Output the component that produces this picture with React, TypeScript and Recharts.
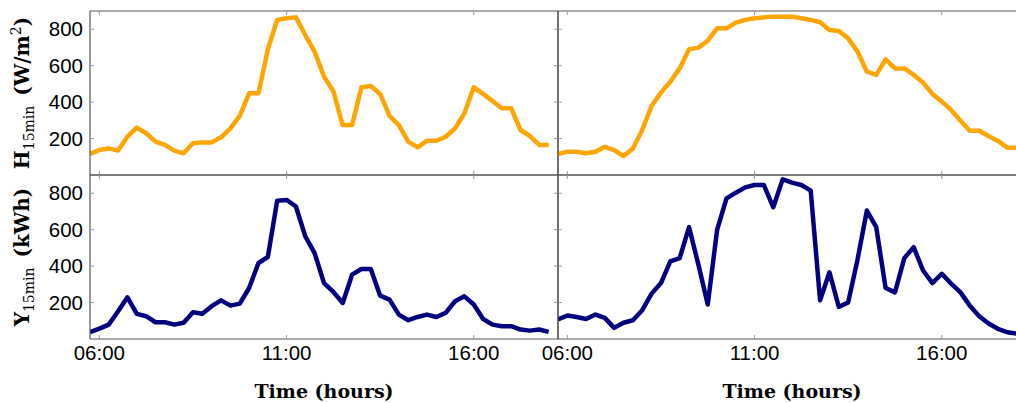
import React from 'react';
import { LineChart, Line, XAxis, YAxis } from 'recharts';

const TIME_SLOTS = [
  '05:45', '06:00', '06:15', '06:30', '06:45', '07:00', '07:15', '07:30', '07:45', '08:00',
  '08:15', '08:30', '08:45', '09:00', '09:15', '09:30', '09:45', '10:00', '10:15', '10:30',
  '10:45', '11:00', '11:15', '11:30', '11:45', '12:00', '12:15', '12:30', '12:45', '13:00',
  '13:15', '13:30', '13:45', '14:00', '14:15', '14:30', '14:45', '15:00', '15:15', '15:30',
  '15:45', '16:00', '16:15', '16:30', '16:45', '17:00', '17:15', '17:30', '17:45', '18:00',
];

const H_DAY1 = [
  115, 137, 146, 134, 210, 260, 229, 183, 165, 134,
  119, 174, 179, 179, 207, 256, 324, 448, 448, 690,
  851, 860, 865, 768, 677, 540, 460, 274, 274, 481,
  488, 445, 324, 274, 183, 152, 188, 188, 210, 256,
  339, 481, 445, 406, 366, 366, 247, 214, 165, 165,
];

const Y_DAY1 = [
  37, 57, 79, 152, 229, 138, 125, 92, 92, 79,
  89, 147, 139, 180, 212, 183, 194, 280, 417, 450,
  759, 763, 727, 563, 471, 307, 258, 198, 353, 384,
  384, 238, 216, 134, 103, 121, 134, 121, 143, 207,
  234, 189, 110, 79, 70, 70, 52, 46, 52, 39,
];

const H_DAY2 = [
  115, 128, 128, 119, 128, 155, 137, 104, 146, 247,
  379, 452, 512, 585, 690, 699, 737, 805, 805, 836,
  851, 860, 865, 869, 869, 869, 860, 851, 838, 796,
  790, 750, 677, 567, 549, 635, 585, 585, 549, 507,
  445, 403, 357, 298, 243, 243, 214, 187, 150, 150,
];

const Y_DAY2 = [
  107, 129, 121, 110, 134, 116, 61, 89, 103, 158,
  249, 307, 426, 444, 614, 408, 189, 599, 772, 803,
  832, 845, 845, 723, 876, 858, 845, 814, 212, 366,
  176, 201, 435, 705, 614, 280, 256, 444, 504, 376,
  307, 358, 304, 256, 183, 125, 85, 56, 37, 30,
];

const X_TICKS = [6, 11, 16];
const X_TICK_LABELS = ['06:00', '11:00', '16:00'];
const Y_TICKS = [200, 400, 600, 800];
const X_DOMAIN = [5.75, 18.25];
const Y_DOMAIN = [0, 900];

const toHours = (s: string) => {
  const [h, m] = s.split(':').map(Number);
  return h + m / 60;
};

const build = (vals: number[]) => TIME_SLOTS.map((s, i) => ({ t: toHours(s), v: vals[i] }));

const fmtX = (v: number) => X_TICK_LABELS[X_TICKS.indexOf(v)] ?? '';
const blank = () => '';

const SPINE = '#555555';
const TICKC = '#999999';
const tickFont = { fontFamily: '"Liberation Sans", Arial, sans-serif', fontSize: 20.5, fill: '#000' };

const PW = 468;
const PH = 164;

function Panel({ vals, color, left, top, showX, showY }: any) {
  const W = 90 + PW + 1 + 9;
  const H = 11 + PH + 40;
  return (
    <div style={{ position: 'absolute', left: left - 90, top: top - 11 }}>
      <LineChart width={W} height={H} data={build(vals)} margin={{ top: 10, right: 9, left: 0, bottom: 0 }}>
        <XAxis
          xAxisId="b"
          dataKey="t"
          type="number"
          domain={X_DOMAIN}
          ticks={X_TICKS}
          interval={0}
          orientation="bottom"
          height={40}
          tickSize={-4}
          tickMargin={10}
          tickFormatter={showX ? fmtX : blank}
          tick={tickFont}
          axisLine={{ stroke: SPINE, strokeWidth: 1.2 }}
          tickLine={{ stroke: TICKC }}
          allowDataOverflow
        />
        <XAxis
          xAxisId="t"
          dataKey="t"
          type="number"
          domain={X_DOMAIN}
          ticks={X_TICKS}
          interval={0}
          orientation="top"
          height={1}
          tickSize={-4}
          tickFormatter={blank}
          axisLine={{ stroke: SPINE, strokeWidth: 1.2 }}
          tickLine={{ stroke: TICKC }}
          allowDataOverflow
        />
        <YAxis
          yAxisId="l"
          type="number"
          domain={Y_DOMAIN}
          ticks={Y_TICKS}
          interval={0}
          orientation="left"
          width={90}
          tickSize={-4}
          tickMargin={11}
          tickFormatter={showY ? undefined : blank}
          tick={tickFont}
          axisLine={{ stroke: SPINE, strokeWidth: 1.2 }}
          tickLine={{ stroke: TICKC }}
          allowDataOverflow
        />
        <YAxis
          yAxisId="r"
          type="number"
          domain={Y_DOMAIN}
          ticks={Y_TICKS}
          interval={0}
          orientation="right"
          width={1}
          tickSize={-4}
          tickFormatter={blank}
          axisLine={{ stroke: SPINE, strokeWidth: 1.2 }}
          tickLine={{ stroke: TICKC }}
          allowDataOverflow
        />
        <Line
          xAxisId="b"
          yAxisId="l"
          dataKey="v"
          type="linear"
          stroke={color}
          strokeWidth={4.5}
          strokeLinejoin="round"
          dot={false}
          activeDot={false}
          isAnimationActive={false}
        />
      </LineChart>
    </div>
  );
}

const labelFont = '"DejaVu Serif", "Liberation Serif", serif';

export default function App() {
  return (
    <div style={{ position: 'absolute', left: 0, top: 0, width: 1016, height: 403, overflow: 'hidden', background: '#fff' }}>
      <Panel vals={H_DAY1} color="#FFA500" left={90} top={11} showX={false} showY={true} />
      <Panel vals={H_DAY2} color="#FFA500" left={558} top={11} showX={false} showY={false} />
      <Panel vals={Y_DAY1} color="#000080" left={90} top={175} showX={true} showY={true} />
      <Panel vals={Y_DAY2} color="#000080" left={558} top={175} showX={true} showY={false} />
      <svg width={1016} height={403} style={{ position: 'absolute', left: 0, top: 0, pointerEvents: 'none' }}>
        <text transform="translate(29,93) rotate(-90)" textAnchor="middle" fontFamily={labelFont} fontSize={20} fontWeight="bold" fill="#000">
          <tspan>H</tspan>
          <tspan fontSize={14} fontWeight="normal" dy={5}>15min</tspan>
          <tspan dy={-5}>{'\u2002(W/m'}</tspan>
          <tspan fontSize={14} fontWeight="normal" dy={-8}>2</tspan>
          <tspan dy={8}>)</tspan>
        </text>
        <text transform="translate(29,257) rotate(-90)" textAnchor="middle" fontFamily={labelFont} fontSize={20} fontWeight="bold" fill="#000">
          <tspan>Y</tspan>
          <tspan fontSize={14} fontWeight="normal" dy={5}>15min</tspan>
          <tspan dy={-5}>{'\u2002(kWh)'}</tspan>
        </text>
        <text x={324} y={398} textAnchor="middle" fontFamily={labelFont} fontSize={19} fontWeight="bold" fill="#000">
          Time (hours)
        </text>
        <text x={792} y={398} textAnchor="middle" fontFamily={labelFont} fontSize={19} fontWeight="bold" fill="#000">
          Time (hours)
        </text>
      </svg>
    </div>
  );
}
